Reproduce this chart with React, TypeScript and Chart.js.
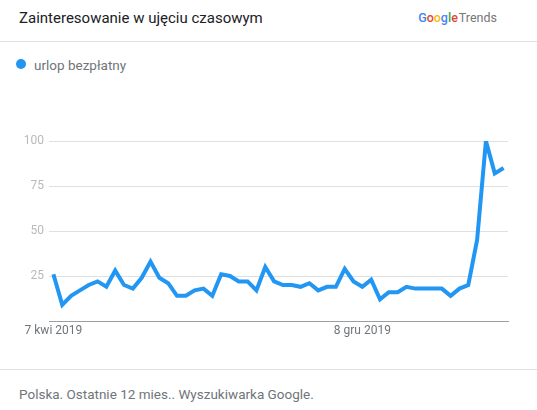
import React, { useEffect, useRef } from "react";
import { Chart, registerables } from "chart.js";

Chart.register(...registerables);

// Weekly buckets (week starting date)
const WEEKS: string[] = [
  "7 kwi 2019", "14 kwi 2019", "21 kwi 2019", "28 kwi 2019",
  "5 maj 2019", "12 maj 2019", "19 maj 2019", "26 maj 2019",
  "2 cze 2019", "9 cze 2019", "16 cze 2019", "23 cze 2019", "30 cze 2019",
  "7 lip 2019", "14 lip 2019", "21 lip 2019", "28 lip 2019",
  "4 sie 2019", "11 sie 2019", "18 sie 2019", "25 sie 2019",
  "1 wrz 2019", "8 wrz 2019", "15 wrz 2019", "22 wrz 2019", "29 wrz 2019",
  "6 paź 2019", "13 paź 2019", "20 paź 2019", "27 paź 2019",
  "3 lis 2019", "10 lis 2019", "17 lis 2019", "24 lis 2019",
  "1 gru 2019", "8 gru 2019", "15 gru 2019", "22 gru 2019", "29 gru 2019",
  "5 sty 2020", "12 sty 2020", "19 sty 2020", "26 sty 2020",
  "2 lut 2020", "9 lut 2020", "16 lut 2020", "23 lut 2020",
  "1 mar 2020", "8 mar 2020", "15 mar 2020", "22 mar 2020", "29 mar 2020",
];

// Search interest for "urlop bezpłatny" (0–100)
const INTEREST: number[] = [
  26, 9, 14, 17, 20, 22, 19, 28, 20, 18,
  24, 33, 24, 21, 14, 14, 17, 18, 14, 26,
  25, 22, 22, 17, 30, 22, 20, 20, 19, 21,
  17, 19, 19, 29, 22, 19, 23, 12, 16, 16,
  19, 18, 18, 18, 18, 14, 18, 20, 45, 100,
  82, 85,
];

// Dates labelled on the time axis
const TICK_LABELS: string[] = ["7 kwi 2019", "8 gru 2019"];

const Y_TICKS: number[] = [25, 50, 75, 100];

const SERIES_NAME = "urlop bezpłatny";
const TITLE = "Zainteresowanie w ujęciu czasowym";
const FOOTER = "Polska. Ostatnie 12 mies.. Wyszukiwarka Google.";

const LINE_COLOR = "#2196f3";
const FONT = "Roboto, 'Noto Sans', sans-serif";

function TrendChart() {
  const canvasRef = useRef<HTMLCanvasElement | null>(null);

  useEffect(() => {
    const canvas = canvasRef.current;
    if (!canvas) return;
    const chart = new Chart(canvas, {
      type: "line",
      data: {
        labels: WEEKS,
        datasets: [
          {
            label: SERIES_NAME,
            data: INTEREST,
            borderColor: LINE_COLOR,
            borderWidth: 4,
            pointRadius: 0,
            pointHoverRadius: 0,
            tension: 0,
            fill: false,
            borderJoinStyle: "miter",
          },
        ],
      },
      options: {
        animation: false,
        responsive: false,
        devicePixelRatio: 1,
        layout: { padding: { top: 41, right: 29, left: 0, bottom: 0 } },
        plugins: {
          legend: { display: false },
          tooltip: { enabled: false },
        },
        scales: {
          x: {
            type: "category",
            offset: true,
            grid: { display: true, drawOnChartArea: false, drawTicks: false },
            border: { display: true, color: "#9e9e9e", width: 1 },
            ticks: {
              autoSkip: false,
              maxRotation: 0,
              minRotation: 0,
              padding: 3,
              color: "#70757a",
              font: { family: FONT, size: 12 },
              callback: (_v: any, i: number) =>
                TICK_LABELS.includes(WEEKS[i]) ? WEEKS[i] : "",
            },
            afterFit: (s: any) => {
              s.height = 29;
            },
          },
          y: {
            min: 0,
            max: 100,
            afterBuildTicks: (s: any) => {
              s.ticks = [0, ...Y_TICKS].map((v) => ({ value: v }));
            },
            grid: {
              color: (ctx: any) =>
                ctx.tick && ctx.tick.value === 0 ? "rgba(0,0,0,0)" : "#e0e0e0",
              drawTicks: false,
            },
            border: { display: false },
            ticks: {
              padding: 5,
              color: "#b9b9b9",
              font: { family: FONT, size: 12 },
              callback: (v: any) => (v === 0 ? "" : String(v)),
            },
            afterFit: (s: any) => {
              s.width = 49;
            },
          },
        },
      },
    });
    return () => chart.destroy();
  }, []);

  return <canvas ref={canvasRef} width={537} height={250} />;
}

export default function App() {
  const abs = (o: React.CSSProperties): React.CSSProperties => ({
    position: "absolute",
    ...o,
  });
  const googleLetters: [string, string][] = [
    ["G", "#4285f4"],
    ["o", "#ea4335"],
    ["o", "#fbbc05"],
    ["g", "#4285f4"],
    ["l", "#34a853"],
    ["e", "#ea4335"],
  ];
  return (
    <div
      style={abs({
        left: 0,
        top: 0,
        width: 537,
        height: 410,
        background: "#fff",
        fontFamily: FONT,
        overflow: "hidden",
      })}
    >
      <div
        style={abs({
          left: 19,
          top: 8,
          fontSize: 15,
          lineHeight: "20px",
          color: "#202124",
          whiteSpace: "nowrap",
        })}
      >
        {TITLE}
      </div>
      <div
        style={abs({
          right: 40,
          top: 8,
          fontSize: 12.5,
          lineHeight: "20px",
          whiteSpace: "nowrap",
        })}
      >
        {googleLetters.map(([ch, c], i) => (
          <span key={i} style={{ color: c, fontWeight: 500 }}>
            {ch}
          </span>
        ))}
        <span style={{ color: "#757575", marginLeft: 1 }}>Trends</span>
      </div>
      <div style={abs({ left: 0, top: 41, width: 537, height: 1, background: "#e0e0e0" })} />
      <div
        style={abs({
          left: 16,
          top: 59,
          width: 10,
          height: 10,
          borderRadius: 5,
          background: LINE_COLOR,
        })}
      />
      <div
        style={abs({
          left: 34,
          top: 55,
          fontSize: 13.5,
          lineHeight: "20px",
          color: "#70757a",
          whiteSpace: "nowrap",
        })}
      >
        {SERIES_NAME}
      </div>
      <div style={abs({ left: 0, top: 100 })}>
        <TrendChart />
      </div>
      <div style={abs({ left: 0, top: 369, width: 537, height: 1, background: "#e0e0e0" })} />
      <div
        style={abs({
          left: 19,
          top: 384,
          fontSize: 13.5,
          lineHeight: "20px",
          color: "#70757a",
          whiteSpace: "nowrap",
        })}
      >
        {FOOTER}
      </div>
    </div>
  );
}
